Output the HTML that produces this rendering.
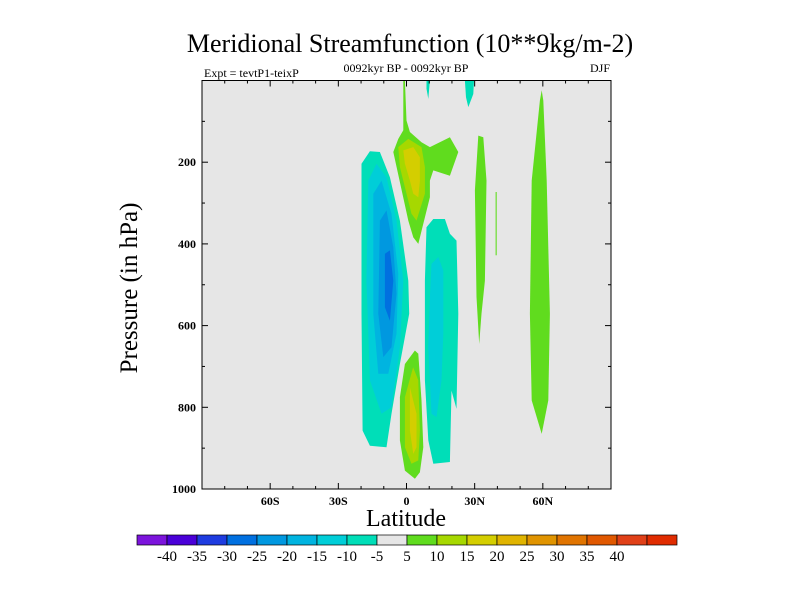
<!DOCTYPE html>
<html><head><meta charset="utf-8">
<style>
body{margin:0;background:#fff;}
svg text{font-family:"Liberation Serif",serif;}
</style></head>
<body>
<svg id="chart" width="800" height="600" xmlns="http://www.w3.org/2000/svg">
<rect width="800" height="600" fill="#fff"/>
<text x="410" y="52" font-size="26" text-anchor="middle">Meridional Streamfunction (10**9kg/m-2)</text>
<text x="204" y="77" font-size="12">Expt = tevtP1-teixP</text>
<text x="406" y="72" font-size="12" text-anchor="middle">0092kyr BP - 0092kyr BP</text>
<text x="610" y="72" font-size="12" text-anchor="end">DJF</text>
<g id="plot"></g>
<text transform="translate(137,288) rotate(-90)" font-size="25" text-anchor="middle">Pressure (in hPa)</text>
<text x="406" y="526" font-size="24" text-anchor="middle">Latitude</text>
<g id="cbar"></g>
</svg>
<script>
const levels=[-25,-20,-15,-10,-5,5,10,15];
const cbColors=["#7c14dc","#4a00d8","#1e3ce0","#0070e0","#0098e0","#00b4e0","#00ced8","#00deb8","#e6e6e6","#60dc1e","#a6d800","#d4ce00","#e0b400","#e09400","#e07400","#e05800","#e04018","#e02c00"];
const cbLabels=[-40,-35,-30,-25,-20,-15,-10,-5,5,10,15,20,25,30,35,40];
const xTicks=[-60,-30,0,30,60];
const xTickLabels=["60S","30S","0","30N","60N"];
const yTicks=[200,400,600,800,1000];
const regionLevels=[-5,-10,-15,-20,-25,5,10,15,5,10,15,-5,-10,-5,-5,5,5,5];
const regionShapes=[
[[-19.8,204],[-16.1,173],[-11.7,175],[-7.3,237],[-2.9,343],[0.8,490],[1.2,571],[-2.9,694],[-6.6,816],[-8.8,898],[-16.1,894],[-19.3,857],[-19.8,571]],
[[-16.8,245],[-13.2,204],[-8.8,237],[-4.4,343],[-1.4,490],[-2.9,653],[-6.6,800],[-11,816],[-16.1,734],[-17.6,490]],
[[-14.6,277],[-11,245],[-6.6,326],[-3.6,473],[-4.4,620],[-8,718],[-12.4,718],[-14.6,571]],
[[-11.7,343],[-8.8,318],[-5.8,408],[-4.4,522],[-6.6,653],[-10.2,677],[-12.4,571]],
[[-9.5,424],[-7.3,416],[-5.8,490],[-7.3,588],[-9.5,555]],
[[-1.4,0],[-0.7,0],[0,98],[1.5,126],[6.6,151],[10.3,163],[19.1,139],[22.8,175],[19.1,233],[11.8,220],[10.3,245],[10.3,286],[5.2,400],[3,384],[0.8,343],[-5.8,175],[-3.6,143],[-1.4,122]],
[[-3.6,163],[0.8,143],[6.6,163],[8.1,212],[8.1,277],[4.4,343],[2.2,326],[-2.9,212]],
[[-1.4,171],[3,163],[5.9,188],[5.9,245],[5.2,286],[3,277],[1.5,245],[-0.7,204]],
[[3.7,661],[5.2,669],[6.6,783],[7.4,898],[5.9,959],[3.7,975],[-0.7,955],[-2.9,881],[-2.9,775],[-0.7,694]],
[[2.9,702],[5.2,734],[5.9,857],[5.2,930],[2.2,938],[-0.7,898],[-0.7,775]],
[[1.5,751],[4.4,816],[4.4,898],[3,914],[1.5,857]],
[[8.8,359],[11.8,339],[16.9,339],[19.1,375],[22.0,392],[22.8,571],[22.0,804],[19.8,759],[19.1,934],[11.8,938],[9.6,881],[8.1,734],[8.1,490]],
[[11.0,449],[14,432],[16.2,465],[16.2,620],[15.4,734],[13.2,824],[11,816],[9.6,653],[10.3,530]],
[[8.8,0],[10.3,0],[9.6,45],[8.8,20]],
[[25.7,0],[29.7,0],[29.4,33],[27.2,65],[26.2,41]],
[[31.6,135],[33.8,139],[35.2,245],[34.5,490],[33,571],[32,645],[30.8,530],[30.1,269]],
[[39.2,273],[39.7,273],[39.7,428],[39.2,428]],
[[59.5,24],[60.2,49],[61.7,245],[63.1,571],[62.4,783],[59.5,865],[55.1,783],[54.3,571],[55.1,245],[58.7,49]]
];
const NS="http://www.w3.org/2000/svg";
const X0=202,X1=611,Y0=80.5,Y1=489;
const xs=l=>X0+(l+90)/180*(X1-X0);
const ys=p=>Y0+p/1000*(Y1-Y0);
function levelColor(v){const i=cbLabels.indexOf(v);return v<0?cbColors[i]:cbColors[i+1];}
const plot=document.getElementById('plot');
function mk(tag,attrs,parent){const e=document.createElementNS(NS,tag);for(const k in attrs)e.setAttribute(k,attrs[k]);parent.appendChild(e);return e;}
mk('rect',{x:X0,y:Y0,width:X1-X0,height:Y1-Y0,fill:'#e6e6e6'},plot);
regionShapes.forEach((sh,i)=>{
  const pg=mk('polygon',{points:sh.map(q=>xs(q[0]).toFixed(1)+','+ys(q[1]).toFixed(1)).join(' '),fill:levelColor(regionLevels[i])},plot);
  
  
});
mk('rect',{x:X0,y:Y0,width:X1-X0,height:Y1-Y0,fill:'none',stroke:'#000','stroke-width':1},plot);
for(let l=-80;l<=80;l+=10){const maj=l%30===0;const len=maj?6:3;
  mk('line',{x1:xs(l),x2:xs(l),y1:Y1,y2:Y1-len,stroke:'#000'},plot);
  mk('line',{x1:xs(l),x2:xs(l),y1:Y0,y2:Y0+len,stroke:'#000'},plot);}
xTicks.forEach((l,i)=>{const t=mk('text',{x:xs(l),y:Y1+16,'font-size':12,'text-anchor':'middle','font-weight':'bold'},plot);t.textContent=xTickLabels[i];
  
  });
for(let p=100;p<1000;p+=100){const len=p%200===0?6:3;
  mk('line',{x1:X0,x2:X0+len,y1:ys(p),y2:ys(p),stroke:'#000'},plot);
  mk('line',{x1:X1,x2:X1-len,y1:ys(p),y2:ys(p),stroke:'#000'},plot);}
yTicks.forEach(p=>{const t=mk('text',{x:X0-6,y:ys(p)+4,'font-size':12,'text-anchor':'end','font-weight':'bold'},plot);t.textContent=p;
  
  });
const cb=document.getElementById('cbar');
const cx0=137,cw=30,cy=535,ch=10;
cbColors.forEach((c,i)=>{const r=mk('rect',{x:cx0+i*cw,y:cy,width:cw,height:ch,fill:c,stroke:'#000','stroke-width':0.7},cb);
  
  });
cbLabels.forEach((v,i)=>{const t=mk('text',{x:cx0+(i+1)*cw,y:cy+26,'font-size':15,'text-anchor':'middle'},cb);t.textContent=v;
  
  });
</script>
</body></html>
